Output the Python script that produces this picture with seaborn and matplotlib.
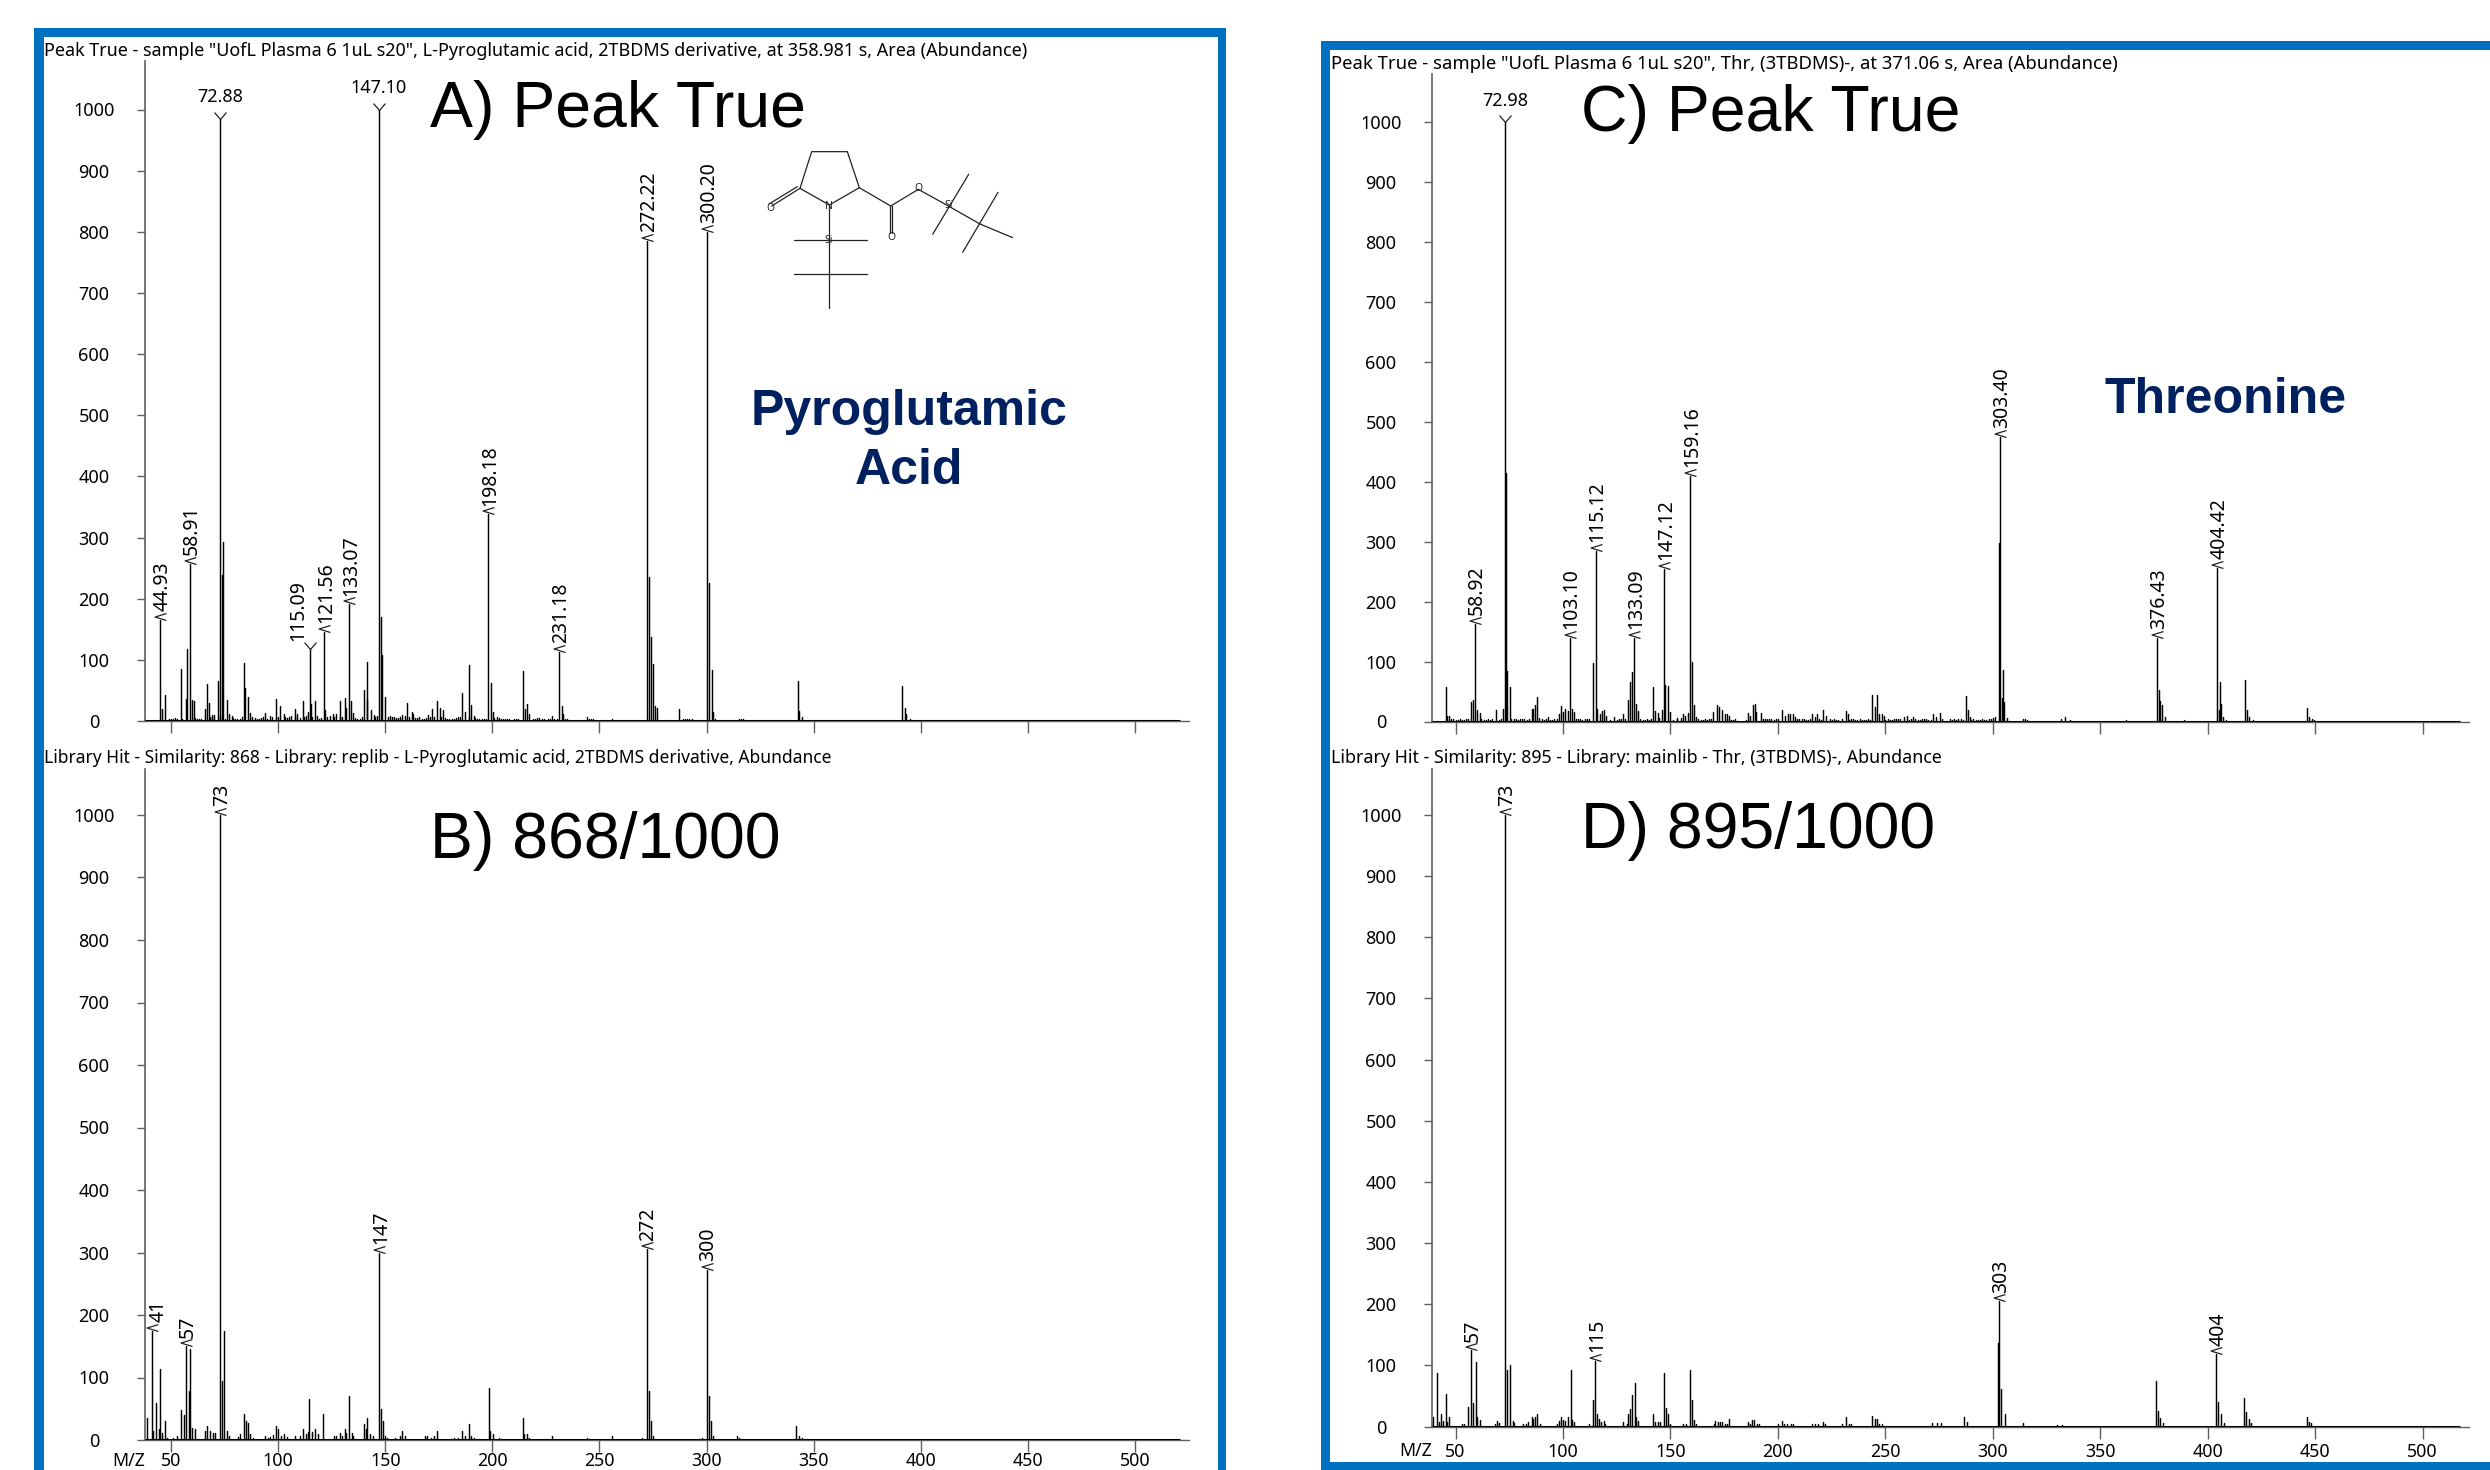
import numpy as np
import pandas as pd
import matplotlib
matplotlib.use("Agg")
import matplotlib.pyplot as plt
from matplotlib.lines import Line2D
from matplotlib.patches import Rectangle
from matplotlib.path import Path
import seaborn as sns

# ---------- data: (m/z, abundance) ----------
A_PEAKS = [(44.93,165),(45.8,20),(47,43),(54.7,85),(56.9,36),(57.6,117),(58.91,257),(60,35),(60.6,33),(65.9,19),(67,60),(67.8,30),(69,9),(70,9),(71.8,65),(72.88,985),(74,238),(74.5,293),(76,34),(77.2,12),(78.4,8),(84,95),(84.7,54),(85.8,40),(87,13),
 (94,13),(98.9,36),(101,24),(102.6,12),(107.8,20),(109,12),(111.7,32),(114,15),(115.09,117),(115.5,28),(117,32),(118.3,8),(121.56,146),(122,18),(125.7,11),(127,12),(128.8,32),(131,38),(131.8,21),(133.07,191),(134,32),(135,13),
 (140,50),(141.4,36),(141.7,96),(143.4,18),(144.6,9),(147.1,1000),(148,170),(148.7,108),(150,40),(151.4,7),(160,29),(162.4,14),(163,12),(170,10),(172,20),(174,32),(175.5,22),(177,18),(186,46),(187.2,15),(188.9,92),(190,26),(191.3,8),
 (198.18,338),(199.6,62),(200.5,15),(214.2,82),(215.4,19),(216,27),(217.3,11),(228,8),(231.18,113),(232.5,25),(233,11),(244,6),(256,4),(272.22,785),(273,235),(274,137),(275,93),(275.8,25),(276.8,21),(287,19),(300.2,800),(301.2,225),(302.5,84),(303,15),(304,3),(342.7,66),(343.2,17),(344.5,6),(391.4,58),(392.7,21),(393.3,11),(395,3),(434,2)]
A_NOISE = [(49,3),(50,4),(51,3),(52,5),(53,4),(55,4),(61,5),(62,3),(63,4),(64,4),(68,6),(69,5),(73,8),(75,4),(79,5),(80,4),(81,3),(82,4),(83,6),(88,7),(89,5),(90,4),(91,3),(92,5),(93,6),(95,4),(96,8),(97,6),(99,5),(100,7),(103,6),(104,5),(105,6),(106,8),(108,7),(110,5),(112,7),(113,8),(116,7),(119,4),(120,5),(123,6),(124,8),(126,6),(129,6),(130,7),(136,5),(137,4),(138,4),(139,6),(145,7),(146,8),(152,8),(153,6),(154,6),(155,5),(156,5),(157,7),(158,9),(159,8),(161,7),(164,5),(165,5),(166,6),(167,4),(168,4),(169,5),(171,7),(173,6),(176,6),(178,5),(179,4),(180,4),(181,4),(182,3),(183,5),(184,6),(185,7),(189,6),(192,5),(193,4),(194,4),(195,3),(196,4),(197,4),(201,5),(202,6),(203,5),(204,4),(205,4),(206,3),(207,4),(208,3),(210,3),(211,3),(212,4),(219,4),(220,4),(221,5),(222,5),(223,3),(224,3),(226,4),(227,3),(229,3),(230,4),(234,3),(235,3),(245,4),(246,4),(247,3),(289,4),(290,4),(291,3),(292,3),(293,3),(315,3),(316,3),(317,3)]
A_LABELS = [(44.93,165,"44.93"),(58.91,257,"58.91"),(72.88,985,"72.88"),(115.09,117,"115.09"),(121.56,146,"121.56"),(133.07,191,"133.07"),(147.1,1000,"147.10"),(198.18,338,"198.18"),(231.18,113,"231.18"),(272.22,785,"272.22"),(300.2,800,"300.20")]

B_PEAKS = [(38.8,36),(41,175),(41.7,15),(43,60),(44.4,18),(44.7,113),(46,12),(47,31),(48.2,3),(50.9,3),(53,7),(54.7,48),(56,40),(57,150),(58.3,78),(59,145),(60,20),(61,18),(66,14),(67,22),(68.3,14),(69.5,12),(70.7,12),(73,1000),(74,94),(74.7,175),(76,14),(77,7),(81.2,5),(82.4,10),(84,42),(85,30),(86,28),(87,10),(88.3,3),
 (94,6),(95.1,3),(96.4,5),(97.6,8),(99,23),(100,18),(101.3,6),(102.6,10),(104.1,5),(108,6),(110,6),(111.7,18),(113,10),(114,13),(114.6,65),(115.8,13),(117,18),(118.6,10),(121,42),(125.9,6),(127.1,6),(128.7,12),(129.9,6),(131,18),(131.8,12),(133,70),(134.3,12),(135.1,7),(140,26),(141.2,18),(141.7,36),(143.1,10),(144.4,6),(147,300),(148,50),(148.8,31),(150,6),(151,4),(154.6,3),(156.9,6),(158,14),(159.4,6),
 (168.5,6),(169.7,7),(171.3,4),(172.7,6),(174,15),(182,3),(184,3),(186,15),(187.2,6),(189,26),(190,7),(191.3,3),(198.4,84),(199,15),(200.2,10),(203,3),(214.2,36),(215,10),(216,10),(217.3,4),(228,7),(244,4),(256,6),(270,4),(272,305),(273,78),(274,31),(275,7),(298,4),(300,272),(301,70),(302,30),(303,7),(314,7),(315,3),(341.7,23),(343,7),(344.5,4)]
B_LABELS = [(41,175,"41"),(57,150,"57"),(73,1000,"73"),(147,300,"147"),(272,305,"272"),(300,272,"300")]

C_PEAKS = [(45.3,57),(46.2,10),(47.1,10),(57,33),(58.2,36),(58.92,163),(60,20),(61.3,14),(68.8,20),(72,21),(72.98,1000),(73.4,415),(74,85),(75.3,58),(85.4,21),(86.2,21),(87,27),(88,41),(89,6),(93,7),(98,13),(99,26),(100,16),(101,21),(102.3,18),(103.1,140),(104,21),(105,16),(113.8,98),(115.12,285),(116,21),(117.3,12),(118,17),(119,19),(120.2,9),(123.9,7),(128,13),(130.3,36),(131,66),(132,82),(133.09,140),(134,29),(135,18),(142,57),(143,18),(144.2,15),(144.8,6),(146,20),(147.12,255),(147.5,61),(149,59),(150,16),(152.8,6),(154.8,6),(156,12),(156.6,9),(158,14),(159.16,410),(160,100),(161,28),(161.9,7),
 (170,16),(171.5,28),(172.8,24),(174,20),(175.2,13),(176.5,12),(177.2,9),(186,14),(187.2,10),(188.5,27),(189.2,30),(190,16),(192,14),(201.8,20),(203.1,10),(204.7,12),(205.8,12),(207,12),(208.1,7),(216,12),(217.4,7),(218.3,13),(221,20),(222.3,10),(229.7,4),(231.9,18),(232.8,12),(244,45),(245.4,24),(245.9,45),(247,12),(248.2,12),(249.5,9),
 (258.6,7),(260,9),(263,7),(272,12),(273.5,8),(275.3,14),(276.4,5),(287.7,42),(288.4,19),(289.6,7),(302.8,298),(303.4,475),(304.2,40),(304.8,86),(305.4,32),(306.7,6),(314,4),(315,4),(316,3),(331.9,5),(333.4,7),(335.7,3),(361.8,3),(376.43,140),(377.4,53),(378,34),(378.8,28),(379.9,7),(388.9,3),(404.42,256),(405.2,19),(405.6,66),(406,29),(407.2,7),(408.4,3),(417.4,69),(418.5,19),(419.3,7),(420.9,3),(446,22),(447,7),(448.3,5),(449.4,3)]
C_NOISE = [(48,5),(49,4),(50,3),(51,3),(52,4),(53,3),(54,3),(55,4),(56,5),(62,4),(63,3),(64,3),(65,4),(66,3),(67,4),(70,3),(71,4),(76,5),(77,4),(78,4),(79,3),(80,5),(81,4),(82,4),(83,3),(84,4),(90,4),(91,3),(92,4),(94,3),(95,3),(96,4),(97,5),(106,4),(107,5),(108,4),(109,3),(110,4),(111,5),(112,4),(122,3),(125,3),(126,4),(127,4),(129,5),(136,4),(137,3),(138,3),(139,4),(140,3),(141,4),(151,3),(153,4),(163,4),(164,3),(165,3),(166,4),(167,3),(168,4),(169,4),(178,3),(179,3),(180,4),(185,3),(193,4),(194,5),(195,4),(196,5),(197,4),(198,3),(199,4),(200,4),(209,5),(210,4),(211,5),(212,4),(213,3),(214,3),(215,4),(219,4),(220,3),(224,4),(225,3),(226,4),(227,3),(228,3),(233,3),(234,4),(235,4),(236,3),(237,3),(238,4),(239,3),(240,3),(241,3),(242,4),(243,3),(250,3),(251,4),(252,3),(253,3),(254,4),(255,5),(256,4),(257,4),(261,3),(262,4),(264,4),(265,3),(266,3),(267,4),(268,4),(269,4),(270,3),(271,3),(280,4),(281,3),(282,4),(283,3),(284,4),(285,4),(286,3),(290,3),(291,4),(292,3),(293,3),(294,3),(295,4),(296,3),(297,3),(298,4),(299,5),(300,6),(301,7)]
C_LABELS = [(58.92,163,"58.92"),(72.98,1000,"72.98"),(103.1,140,"103.10"),(115.12,285,"115.12"),(133.09,140,"133.09"),(147.12,255,"147.12"),(159.16,410,"159.16"),(303.4,475,"303.40"),(376.43,140,"376.43"),(404.42,256,"404.42")]

D_PEAKS = [(39.6,15),(41.3,88),(42.5,8),(43,21),(44.2,9),(45.3,54),(46.2,8),(47,15),(52.8,4),(54,5),(56,32),(57,125),(58,38),(59.3,106),(60.1,16),(61.3,11),(68.3,4),(69.4,9),(70.2,6),(73,1000),(74,93),(75.3,101),(76.7,9),(77.3,6),(81.5,4),(82.7,4),(83.8,7),(85.4,15),(86.2,12),(87,16),(88,20),(89.2,5),
 (97,4),(98,9),(99,15),(100,11),(101,9),(102.3,15),(103.5,93),(104,11),(105,7),(112.2,5),(113.8,43),(115,108),(116,20),(116.9,13),(117.8,7),(119,9),(119.6,4),(128,7),(129.6,4),(130.3,20),(131,28),(132,52),(133.3,71),(134,15),(135.1,9),(142,20),(143,7),(144.2,7),(145,7),(146.8,88),(148,30),(149,21),(150,5),(155.9,5),(157.2,4),(159,93),(160,44),(160.9,11),(162,5),(170.2,5),(170.8,9),(172,7),(173,7),(173.8,7),(175.2,4),(176.5,4),(177.3,13),(186,7),(187.2,4),(188.1,11),(189,11),(190.4,5),(191.4,4),
 (200.2,4),(201.9,9),(203,4),(204.4,5),(206,5),(207.2,4),(216,5),(217.4,5),(218.8,4),(221,7),(221.7,5),(229.7,4),(231.8,15),(233,5),(233.9,4),(244,18),(245,13),(245.9,13),(247,5),(248.2,4),(271.5,6),(274,6),(276,6),(286.4,15),(288.1,8),(302.3,137),(303,205),(304,62),(305.5,20),(314,6),(330,3),(332,3),(376,75),(377,26),(378,14),(379,6),(404,118),(405,40),(406,20),(407.5,6),(417,46),(418,24),(419,12),(420,6),(446,15),(447,8),(448,6)]
D_LABELS = [(57,125,"57"),(73,1000,"73"),(115,108,"115"),(303,205,"303"),(404,118,"404")]

Y_TICKS = [0,100,200,300,400,500,600,700,800,900,1000]
X_TICKS = [50,100,150,200,250,300,350,400,450,500]

TITLE_A = 'Peak True - sample "UofL Plasma 6 1uL s20", L-Pyroglutamic acid, 2TBDMS derivative, at 358.981 s, Area (Abundance)'
TITLE_B = 'Library Hit - Similarity: 868 - Library: replib - L-Pyroglutamic acid, 2TBDMS derivative, Abundance'
TITLE_C = 'Peak True - sample "UofL Plasma 6 1uL s20", Thr, (3TBDMS)-, at 371.06 s, Area (Abundance)'
TITLE_D = 'Library Hit - Similarity: 895 - Library: mainlib - Thr, (3TBDMS)-, Abundance'

# ---------- style ----------
sns.set_theme(style="white")
plt.rcParams["font.family"] = ["Noto Sans", "DejaVu Sans"]
W, H = 2490, 1470
fig = plt.figure(figsize=(W/100, H/100), dpi=100, facecolor="white")
BLUE = "#0070C0"; NAVY = "#002060"
GRAY = "#5f5f5f"

def rect(x0, y0, x1, y1):
    fig.add_artist(Rectangle((x0/W, 1-y1/H), (x1-x0)/W, (y1-y0)/H, transform=fig.transFigure,
                             fc=BLUE, ec="none", zorder=-5))

rect(34, 28, 1226, 37); rect(34, 28, 44, 1470); rect(1218, 28, 1226, 1470)
rect(1321, 41, 2490, 50); rect(1321, 41, 1330, 1470); rect(1321, 1462, 2490, 1470)

LT = Path([(6, 7), (-5.5, 3.5), (6, 0)], closed=False)
VEE = Path([(-6, 7), (0, 0), (6, 7)], closed=False)

def panel(left, right, y_top, y0, y1000, x50, x500, peaks, noise, labels, horiz, dx, vee,
          title, title_fs, title_x, title_y, show_x, xlab_y, mzlab_x, xpad):
    ppm = (x500-x50)/450
    ppu = (y0-y1000)/1000
    ax = fig.add_axes([left/W, 1-y0/H, (right-left)/W, (y0-y_top)/H])
    xlim = (50+(left-x50)/ppm, 50+(right-x50)/ppm)
    ylim = (0, (y0-y_top)/ppu)
    rows = list(peaks)+list(noise)
    all_mz = [r[0] for r in rows]
    all_v = [r[1] for r in rows]
    df = pd.DataFrame({
        "mz": np.repeat(all_mz, 2),
        "abundance": np.column_stack([np.zeros(len(all_v)), all_v]).ravel(),
        "peak": np.repeat(np.arange(len(all_v)), 2),
    })
    sns.lineplot(data=df, x="mz", y="abundance", units="peak", estimator=None, sort=False,
                 color="black", linewidth=1.05, legend=False, ax=ax)
    ax.plot([xlim[0], 50+(right-9-x50)/ppm], [0, 0], color="black", lw=2.2, solid_capstyle="butt", zorder=5)
    ax.set_xlim(*xlim); ax.set_ylim(*ylim)
    ax.set_xlabel(""); ax.set_ylabel("")
    ax.patch.set_alpha(0)
    sns.despine(ax=ax)
    for s, lw in (("left", 1.2), ("bottom", 1.0)):
        ax.spines[s].set_color(GRAY); ax.spines[s].set_linewidth(lw)
    ax.set_yticks(Y_TICKS)
    ax.set_xticks(X_TICKS)
    ax.tick_params(axis="y", direction="out", length=5.8, width=1, color=GRAY, labelsize=13,
                   pad=(51-8)*0.72, labelcolor="black", left=True)
    ax.tick_params(axis="x", direction="out", length=8.6, width=1, color=GRAY, labelsize=12.8,
                   pad=xpad, labelcolor="black", bottom=True, labelbottom=show_x)
    for t in ax.get_yticklabels():
        t.set_ha("center"); t.set_va("center_baseline")
    for m, v, s in labels:
        d = dx.get(s, 2)
        if s in horiz:
            ax.plot([m], [v], marker=VEE, ms=10, mfc="none", mec="#222222", mew=0.9, clip_on=False)
            ax.annotate(s, xy=(m, v), xytext=(0, 9), textcoords="offset points", ha="center", va="bottom",
                        fontsize=13, color="black")
        else:
            ax.plot([m], [v], marker=VEE if s in vee else LT, ms=10, mfc="none",
                    mec="#222222", mew=0.9, clip_on=False)
            ax.annotate(s, xy=(m, v), xytext=(d*0.72, 6.2), textcoords="offset points", rotation=90,
                        ha="center", va="bottom", fontsize=14, color="black")
    fig.text(title_x/W, 1-title_y/H, title, fontsize=title_fs, va="center", ha="left", color="black")
    if show_x:
        fig.text(mzlab_x/W, 1-xlab_y/H, "M/Z", fontsize=12.8, ha="center", va="center", color="black")
    return ax

panel(145, 1189, 61, 721, 109.5, 171, 1135, A_PEAKS, A_NOISE, A_LABELS,
      {"72.88", "147.10"}, {"115.09": -12}, {"115.09"}, TITLE_A, 12.95, 44, 50.5, False, 0, 0, 2)
panel(145, 1189, 769, 1440, 815, 171, 1135, B_PEAKS, [], B_LABELS,
      set(), {"41": 7}, set(), TITLE_B, 12.55, 44, 758, True, 1460.5, 129, 0)
panel(1432, 2469, 74, 721.5, 122, 1455.6, 2422.6, C_PEAKS, C_NOISE, C_LABELS,
      {"72.98"}, {}, set(), TITLE_C, 13.3, 1331, 63.6, False, 0, 0, 2)
panel(1432, 2469, 769, 1426.6, 815, 1455.6, 2422.6, D_PEAKS, [], D_LABELS,
      set(), {}, set(), TITLE_D, 12.8, 1331, 758, True, 1451, 1416, 3)

LIB = ["Liberation Sans", "DejaVu Sans"]
for s, x, y in (("A) Peak True", 430, 126.5), ("B) 868/1000", 430, 858),
                ("C) Peak True", 1581, 131), ("D) 895/1000", 1581, 848)):
    fig.text(x/W, 1-y/H, s, fontsize=46.4, family=LIB, ha="left", va="baseline", color="black")
for s, x, y in (("Pyroglutamic", 909, 412), ("Acid", 909, 471), ("Threonine", 2226, 400)):
    fig.text(x/W, 1-y/H, s, fontsize=36, family=LIB, weight="bold", ha="center", va="center", color=NAVY)

# chemical structure sketch (decoration, not data)
STRUCT = [
    [(180,175),(215,65),(322,65),(358,173),(268,225),(180,175)],
    [(180,175),(95,228)], [(172,170),(87,222)],
    [(358,173),(452,228)], [(450,228),(450,310)], [(457,228),(457,310)],
    [(452,228),(535,178)], [(535,178),(625,228)], [(625,228),(720,282)],
    [(686,133),(578,313)], [(774,187),(668,367)], [(720,282),(818,323)],
    [(268,225),(268,535)], [(163,329),(380,329)], [(163,433),(380,433)],
]
for seg in STRUCT:
    xs = [(740+p[0]/3)/W for p in seg]; ys = [1-(130+p[1]/3)/H for p in seg]
    fig.add_artist(Line2D(xs, ys, color="#222222", lw=0.9, transform=fig.transFigure))
for s, p in (("O",(90,235)),("N",(267,230)),("O",(453,322)),("O",(536,175)),("Si",(627,228)),("Si",(265,331))):
    fig.text((740+p[0]/3)/W, 1-(130+p[1]/3)/H, s, fontsize=7.5, ha="center", va="center", color="#222222")

fig.savefig("out.png", dpi=100, facecolor="white")
